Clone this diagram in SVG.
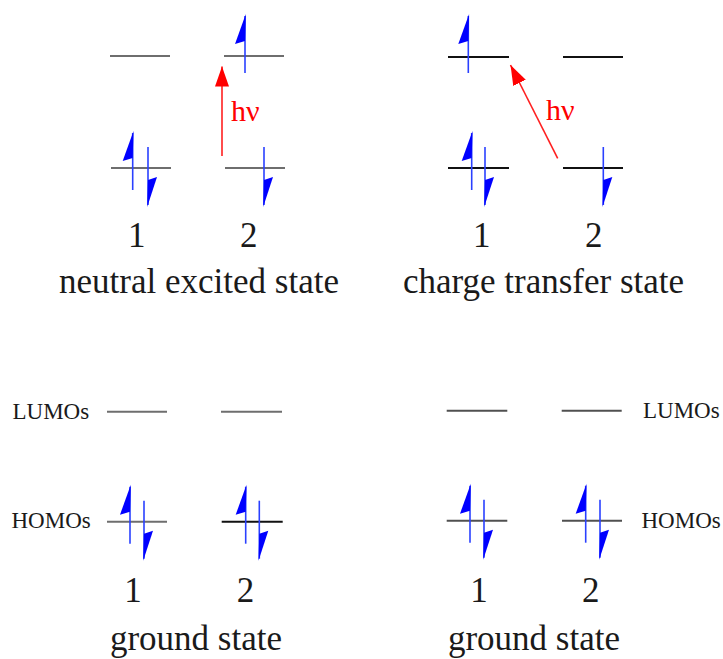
<svg xmlns="http://www.w3.org/2000/svg" xmlns:xlink="http://www.w3.org/1999/xlink" width="723" height="659" viewBox="0 0 723 659">
<style>
.lv{stroke:#6e6e6e;stroke-width:2;fill:none}
.lk{stroke:#111;stroke-width:2;fill:none}
.ld{stroke:#505050;stroke-width:2;fill:none}
.t{font-family:"Liberation Serif","Times New Roman",serif;fill:#1a1a1a}
.big{font-size:35px;text-anchor:middle}
.sm{font-size:23px}
.hv{font-family:"Liberation Serif","Times New Roman",serif;font-size:30px;fill:#ff0000}
.ex{stroke:#ff2020;stroke-width:1.6;fill:none}
.el{stroke:#2a40ff;stroke-width:1.6}
.eh{fill:#0000ff}
</style>
<defs>
<marker id="ah" markerUnits="userSpaceOnUse" markerWidth="22" markerHeight="16" refX="20" refY="7" orient="auto">
<path d="M0,0 L20,7 L0,14 Z" fill="#ff0000"/>
</marker>
<g id="up"><line class="el" x1="0" y1="22" x2="0" y2="-35"/><polygon class="eh" points="0.8,-37 -10,-7 0,-10"/></g>
<g id="dn"><line class="el" x1="0" y1="-21" x2="0" y2="37"/><polygon class="eh" points="-0.8,39 9,9 0,12"/></g>
</defs>

<g id="neutral-excited">
<line class="lv" x1="110" y1="56" x2="170" y2="56"/>
<line class="lv" x1="224" y1="56" x2="284" y2="56"/>
<line class="lv" x1="111" y1="168" x2="171" y2="168"/>
<line class="lv" x1="225" y1="168" x2="285" y2="168"/>
<use xlink:href="#up" x="245" y="51"/>
<use xlink:href="#up" x="132.7" y="168"/>
<use xlink:href="#dn" x="148" y="168"/>
<use xlink:href="#dn" x="264" y="168"/>
<text class="t big" x="136.7" y="246.7">1</text>
<text class="t big" x="248.7" y="246.7">2</text>
<text class="t big" x="199" y="293">neutral excited state</text>
</g>

<g id="charge-transfer">
<line class="lk" x1="448" y1="57" x2="509" y2="57"/>
<line class="lk" x1="563" y1="57" x2="623" y2="57"/>
<line class="lk" x1="448" y1="168" x2="509" y2="168"/>
<line class="lk" x1="563" y1="168" x2="623" y2="168"/>
<use xlink:href="#up" x="468.3" y="51"/>
<use xlink:href="#up" x="471.7" y="168"/>
<use xlink:href="#dn" x="485" y="168"/>
<use xlink:href="#dn" x="603.3" y="168"/>
<text class="t big" x="481.7" y="246.7">1</text>
<text class="t big" x="593.7" y="246.7">2</text>
<text class="t big" x="543.5" y="293">charge transfer state</text>
</g>

<g id="ground-left">
<text class="t sm" x="12.5" y="419.3">LUMOs</text>
<text class="t sm" x="11.5" y="528.3">HOMOs</text>
<line class="lv" x1="107" y1="411.7" x2="167" y2="411.7"/>
<line class="lv" x1="221" y1="411.7" x2="282" y2="411.7"/>
<line class="lv" x1="107" y1="521.7" x2="167" y2="521.7"/>
<line class="lk" x1="221.7" y1="521.7" x2="282.7" y2="521.7"/>
<use xlink:href="#up" x="130" y="521.7"/>
<use xlink:href="#dn" x="144" y="521.7"/>
<use xlink:href="#up" x="245.7" y="521.7"/>
<use xlink:href="#dn" x="259.3" y="521.7"/>
<text class="t big" x="133" y="601.7">1</text>
<text class="t big" x="245.5" y="601.7">2</text>
<text class="t big" x="196" y="650">ground state</text>
</g>

<g id="ground-right">
<line class="ld" x1="446.7" y1="410.7" x2="507.3" y2="410.7"/>
<line class="ld" x1="561.7" y1="410.7" x2="621.7" y2="410.7"/>
<line class="ld" x1="446.7" y1="520.7" x2="507.3" y2="520.7"/>
<line class="ld" x1="562" y1="520.7" x2="622" y2="520.7"/>
<text class="t sm" x="643" y="418.3">LUMOs</text>
<text class="t sm" x="641.5" y="528.3">HOMOs</text>
<use xlink:href="#up" x="470" y="520.7"/>
<use xlink:href="#dn" x="484" y="520.7"/>
<use xlink:href="#up" x="585.7" y="520.7"/>
<use xlink:href="#dn" x="600" y="520.7"/>
<text class="t big" x="479" y="601.7">1</text>
<text class="t big" x="590.7" y="601.7">2</text>
<text class="t big" x="534" y="650">ground state</text>
</g>

<g id="connectors">
<line class="ex" x1="222" y1="156" x2="222" y2="66.5" marker-end="url(#ah)"/>
<text class="hv" x="231" y="121">hν</text>
<line class="ex" x1="557.7" y1="158.3" x2="510.5" y2="65" marker-end="url(#ah)"/>
<text class="hv" x="546" y="120">hν</text>
</g>
</svg>
